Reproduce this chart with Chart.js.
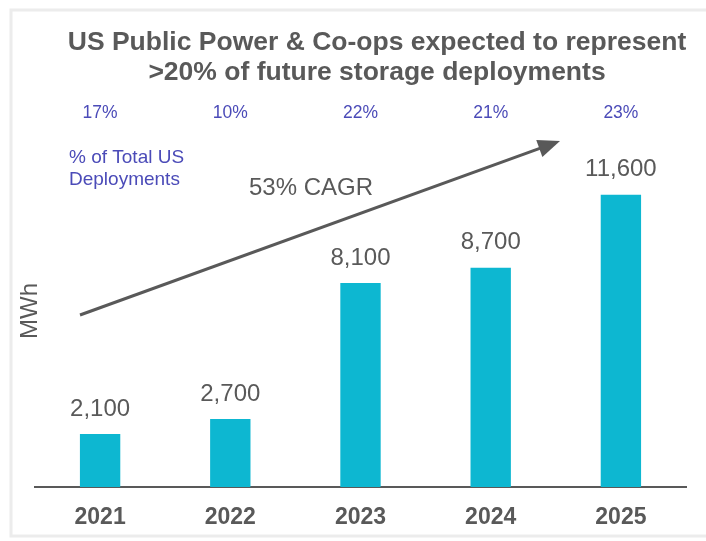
<!DOCTYPE html>
<html>
<head>
<meta charset="utf-8">
<script src="https://cdn.jsdelivr.net/npm/chart.js@4.4.1/dist/chart.umd.min.js"></script>
<style>
  body { margin: 0; background: #fff; }
  #wrap { width: 706px; height: 541px; position: relative; }
</style>
</head>
<body>
<div id="wrap"><canvas id="chart" width="706" height="541"></canvas></div>
<script>
// Dados do gráfico
const anos = ['2021', '2022', '2023', '2024', '2025'];
const mwh = [2100, 2700, 8100, 8700, 11600];
const pctTotal = ['17%', '10%', '22%', '21%', '23%'];
const tituloLinhas = ['US Public Power & Co-ops expected to represent', '>20% of future storage deployments'];

const CINZA = '#595959';
const AZUL_PCT = '#4B4BB8';
const FONTE = 'Liberation Sans, Arial, sans-serif';

// Textos, seta e moldura desenhados por cima do gráfico
const anotacoes = {
    id: 'anotacoes',
    beforeDraw(chart) {
        const ctx = chart.ctx;
        ctx.save();
        ctx.strokeStyle = '#ececec';
        ctx.lineWidth = 3;
        ctx.strokeRect(11, 10, 720, 526);
        ctx.restore();
    },
    afterDatasetsDraw(chart) {
        const ctx = chart.ctx;
        const meta = chart.getDatasetMeta(0);
        ctx.save();

        // Título
        ctx.fillStyle = CINZA;
        ctx.font = 'bold 26.5px ' + FONTE;
        ctx.textAlign = 'center';
        ctx.textBaseline = 'middle';
        ctx.fillText(tituloLinhas[0], 377, 43);
        ctx.fillText(tituloLinhas[1], 377, 73);

        // % do total
        ctx.fillStyle = AZUL_PCT;
        ctx.font = '17.5px ' + FONTE;
        meta.data.forEach((bar, i) => {
            ctx.fillText(pctTotal[i], bar.x, 113);
        });
        ctx.textAlign = 'left';
        ctx.font = '19px ' + FONTE;
        ctx.fillText('% of Total US', 69, 158);
        ctx.fillText('Deployments', 69, 180);

        // Rótulos das barras
        ctx.fillStyle = CINZA;
        ctx.font = '24px ' + FONTE;
        ctx.textAlign = 'center';
        meta.data.forEach((bar, i) => {
            ctx.fillText(mwh[i].toLocaleString('en-US'), bar.x, bar.y - 25);
        });

        // Seta CAGR
        const x1 = 80, y1 = 315, x2 = 560, y2 = 141;
        const ang = Math.atan2(y2 - y1, x2 - x1);
        ctx.strokeStyle = CINZA;
        ctx.lineWidth = 3;
        ctx.beginPath();
        ctx.moveTo(x1, y1);
        ctx.lineTo(x2 - 12 * Math.cos(ang), y2 - 12 * Math.sin(ang));
        ctx.stroke();
        ctx.beginPath();
        ctx.moveTo(x2, y2);
        ctx.lineTo(x2 - 22 * Math.cos(ang) + 9 * Math.sin(ang), y2 - 22 * Math.sin(ang) - 9 * Math.cos(ang));
        ctx.lineTo(x2 - 22 * Math.cos(ang) - 9 * Math.sin(ang), y2 - 22 * Math.sin(ang) + 9 * Math.cos(ang));
        ctx.closePath();
        ctx.fillStyle = CINZA;
        ctx.fill();

        ctx.font = '24px ' + FONTE;
        ctx.fillText('53% CAGR', 311, 188);

        // Título do eixo Y
        ctx.translate(30, 311);
        ctx.rotate(-Math.PI / 2);
        ctx.font = '24px ' + FONTE;
        ctx.fillText('MWh', 0, 0);
        ctx.restore();
    }
};

new Chart(document.getElementById('chart'), {
    type: 'bar',
    data: {
        labels: anos,
        datasets: [{
            data: mwh,
            backgroundColor: '#0DB7D1',
            barPercentage: 0.62,
            categoryPercentage: 0.5
        }]
    },
    options: {
        responsive: false,
        animation: false,
        layout: { padding: { top: 100, left: 35, right: 20, bottom: 0 } },
        plugins: { legend: { display: false }, tooltip: { enabled: false } },
        scales: {
            x: {
                grid: { display: false },
                border: { display: true, color: CINZA, width: 2 },
                ticks: { color: CINZA, padding: 11.5, font: { family: FONTE, size: 23, weight: 'bold', lineHeight: 1 } }
            },
            y: {
                display: false,
                min: 0,
                max: 15360
            }
        }
    },
    plugins: [anotacoes]
});
</script>
</body>
</html>
